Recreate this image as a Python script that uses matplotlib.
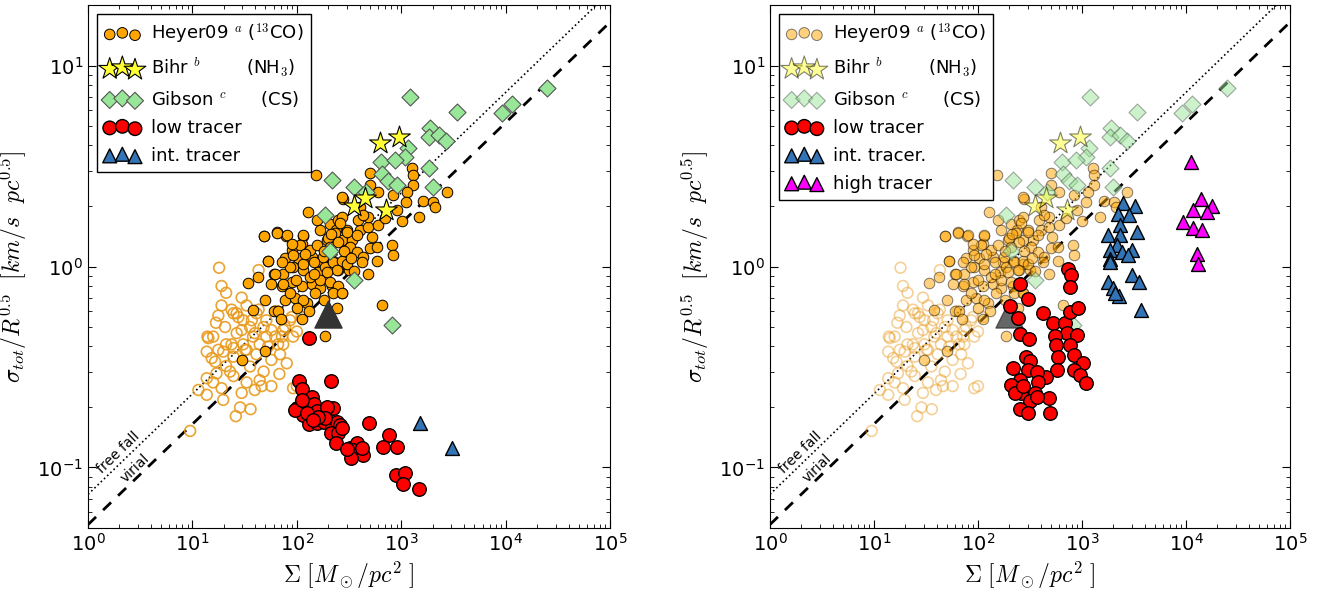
import numpy as np
import matplotlib
matplotlib.use("Agg")
import matplotlib.pyplot as plt
from matplotlib.font_manager import FontProperties

plt.rcParams['font.family'] = ['DejaVu Sans']
plt.rcParams['mathtext.fontset'] = 'dejavusans'

# Heyer09 (13CO), filled circles
heyer_x = [153, 275, 129, 157, 64, 79, 48.5, 115, 208, 250, 167, 236, 300, 193, 269, 336, 111, 89, 77, 53,
           103, 139, 173, 224, 269, 42, 34, 60, 74, 92, 115, 161, 186, 250, 313, 57, 72, 89, 111, 139,
           167, 216, 269, 50, 38, 60, 77, 96, 124, 66, 50, 184, 111,
           502, 1262, 1306, 1306, 1130, 840, 604, 269, 502, 1630, 2030, 2110, 2730, 1490, 1010, 811, 829,
           582, 502, 484, 403, 484, 389, 484, 269, 259, 232, 300, 375, 200, 208, 250, 323, 375, 434,
           179, 224, 269, 300, 241, 193, 167, 208, 250, 224, 269, 115, 107, 134, 155, 92, 115, 86, 72,
           53, 48, 64, 80, 134, 99, 74, 62, 149, 115, 86, 650, 30, 403, 434, 582,
           90, 120, 145, 180, 210, 280, 330, 350, 420, 520, 600, 700, 900, 1100, 180, 240, 130, 100, 70, 145]
heyer_y = [2.85, 2.17, 1.87, 1.70, 1.49, 1.42, 1.42, 1.42, 1.62, 1.70, 1.52, 1.52, 1.52, 1.36, 1.36, 1.36, 1.30, 1.21, 1.10, 1.07,
           1.10, 1.12, 1.05, 1.07, 1.03, 0.89, 0.83, 0.92, 0.92, 1.0, 0.96, 0.94, 1.0, 0.96, 0.96, 0.82, 0.80, 0.84, 0.80, 0.82,
           0.78, 0.80, 0.74, 0.68, 0.61, 0.60, 0.68, 0.70, 0.66, 0.60, 0.38, 0.45, 0.545,
           2.91, 3.08, 2.85, 2.54, 2.36, 2.27, 2.36, 2.22, 2.54, 2.12, 2.1, 1.98, 2.36, 1.77, 1.68, 1.28, 1.14,
           1.07, 1.23, 0.92, 1.52, 1.58, 1.70, 1.77, 1.77, 1.64, 1.46, 1.49, 1.43, 1.38, 1.25, 1.33, 1.25, 1.18, 1.12,
           1.12, 1.05, 1.07, 1.03, 0.96, 0.94, 0.86, 0.84, 0.80, 0.74, 0.74, 1.43, 1.28, 1.21, 1.28, 1.14, 1.03, 1.0, 1.05,
           1.07, 1.42, 1.46, 1.43, 0.89, 0.86, 0.82, 0.92, 0.74, 0.68, 0.74, 0.64, 0.343, 1.98, 1.80, 1.25,
           1.30, 1.15, 1.05, 1.20, 1.45, 1.20, 1.10, 0.95, 1.05, 1.40, 1.60, 1.75, 1.90, 2.10, 0.68, 0.62, 0.60, 0.62, 0.55, 0.92]

# Heyer09, open circles
heyer_open_x = [9.5, 26, 28.6, 36, 19, 16.8, 13.9, 13.7, 16.5, 13.7, 11.4, 13.7, 19, 22.9, 68, 46, 44, 57, 48, 35.6,
                24.7, 33, 44, 62, 86, 74, 26.5, 21, 35.6, 51, 24.7, 33, 64, 92, 17, 21,
                18, 19, 21, 43, 29.6, 23.7, 17.7, 27.5, 37, 43, 20.5, 29.6, 39.5, 57, 77, 89, 72, 14.2, 23.7,
                17.7, 32, 66, 26.5, 30.6, 41, 48, 38, 51, 30.6, 24.7, 41, 53, 69, 74, 80, 19.7, 15.8, 15.3,
                24.7, 33, 39.5, 29.6, 19.7, 15.8, 57, 100, 111, 100, 92]
heyer_open_y = [0.152, 0.18, 0.199, 0.195, 0.64, 0.525, 0.448, 0.377, 0.336, 0.278, 0.243, 0.23, 0.248, 0.30, 0.292, 0.254, 0.272, 0.343, 0.30, 0.318,
                0.356, 0.385, 0.41, 0.448, 0.54, 0.483, 0.466, 0.41, 0.50, 0.54, 0.585, 0.64, 0.60, 0.248, 0.294, 0.32,
                0.986, 0.80, 0.74, 0.96, 0.70, 0.61, 0.57, 0.56, 0.54, 0.61, 0.50, 0.483, 0.466, 0.483, 0.50, 0.56, 0.448, 0.44, 0.41,
                0.385, 0.385, 0.41, 0.585, 0.54, 0.585, 0.50, 0.448, 0.448, 0.41, 0.393, 0.366, 0.40, 0.366, 0.41, 0.33, 0.377, 0.448, 0.35,
                0.285, 0.265, 0.243, 0.235, 0.217, 0.265, 0.254, 0.254, 0.56, 0.475, 0.448]

# Bihr (NH3)
bihr_x = [620, 960, 350, 450, 715]
bihr_y = [4.1, 4.4, 2.0, 2.2, 1.9]

# Gibson (CS)
gibson_x = [1200, 3400, 9200, 11500, 25000, 1900, 1850, 2300, 2700, 1170, 1090, 640, 870, 650, 750, 900,
            1860, 2000, 215, 350, 460, 186, 208, 350, 820]
gibson_y = [7.0, 5.9, 5.8, 6.4, 7.7, 4.9, 4.4, 4.5, 4.2, 3.9, 3.5, 3.3, 3.4, 2.9, 2.65, 2.55,
            3.1, 2.5, 2.7, 2.5, 2.35, 1.8, 1.2, 0.86, 0.51]

# big grey triangle
big_x = [200]
big_y = [0.58]

# left panel tracers
low_l_x = [130, 213, 105, 111, 139, 100, 114, 134, 147, 115, 155, 186, 224, 193, 132, 155, 182, 216, 241, 259,
           211, 250, 237, 186, 96, 124, 161, 144, 111, 269, 323, 375, 348, 434, 330, 305, 419, 492, 764, 674,
           918, 891, 1087, 1033, 1473]
low_l_y = [0.44, 0.27, 0.27, 0.245, 0.225, 0.197, 0.200, 0.202, 0.208, 0.182, 0.190, 0.182, 0.197, 0.200, 0.164, 0.166, 0.169, 0.160, 0.169, 0.163,
           0.149, 0.148, 0.133, 0.176, 0.193, 0.187, 0.178, 0.172, 0.217, 0.158, 0.125, 0.133, 0.122, 0.115, 0.112, 0.124, 0.125, 0.166, 0.145, 0.126,
           0.127, 0.092, 0.094, 0.083, 0.078]
int_l_x = [1500, 3050]
int_l_y = [0.166, 0.125]

# right panel tracers
low_r_x = [738, 778, 769, 254, 300, 203, 244, 256, 309, 425, 523, 687, 769, 922, 713, 889, 550, 561, 589, 769,
           843, 1017, 833, 955, 1092, 571, 451, 485, 492, 288, 319, 219, 303, 367, 256, 380, 207, 261, 354, 227,
           319, 367, 256, 303, 272]
low_r_y = [0.968, 0.908, 0.793, 0.818, 0.689, 0.636, 0.552, 0.461, 0.434, 0.585, 0.525, 0.525, 0.596, 0.62, 0.466, 0.455, 0.453, 0.406, 0.356, 0.406,
           0.363, 0.332, 0.305, 0.288, 0.262, 0.305, 0.283, 0.221, 0.186, 0.356, 0.339, 0.312, 0.305, 0.30, 0.272, 0.265, 0.257, 0.236, 0.235, 0.235,
           0.215, 0.224, 0.195, 0.186, 0.254]
int_r_x = [2462, 3236, 2233, 2851, 2318, 3357, 1790, 2341, 2155, 1857, 3008, 2400, 1857, 2770, 1857, 1790, 3008, 3497,
           1998, 2258, 3707, 2073]
int_r_y = [2.08, 1.99, 1.82, 1.80, 1.61, 1.49, 1.43, 1.43, 1.28, 1.21, 1.21, 1.18, 1.09, 1.14, 1.05, 0.84, 0.908, 0.84,
           0.78, 0.71, 0.61, 0.74]
high_r_x = [11090, 13840, 17650, 11780, 15820, 9420, 11780, 14170, 12680, 13180]
high_r_y = [3.32, 2.16, 2.0, 1.91, 1.87, 1.67, 1.55, 1.52, 1.16, 1.03]

G = 4.302e-3  # pc (km/s)^2 / Msun


def panel(ax, tracers, faded):
    a = 0.5 if faded else 1.0
    sig = np.logspace(0, 5, 50)
    vir = np.sqrt(np.pi * G * sig / 5.0)
    ax.plot(sig, vir, 'k--', lw=2, dashes=(4, 3.5), zorder=1)
    ax.plot(sig, np.sqrt(2) * vir, 'k:', lw=1.2, zorder=1)

    ax.scatter(heyer_open_x, heyer_open_y, s=60, facecolors='none',
               edgecolors='#e89a1c', linewidths=1.2, alpha=0.45 if faded else 0.9, zorder=2)
    ax.scatter(heyer_x, heyer_y, s=58, c='orange', edgecolors='k', linewidths=0.7,
               alpha=a, zorder=3, label=r'Heyer09 $^a$ ($^{13}$CO)')
    ax.scatter(bihr_x, bihr_y, s=270, marker='*', c='#ffff33', edgecolors='k', linewidths=0.8,
               alpha=a, zorder=5, label=r'Bihr $^b$        (NH$_3$)')
    ax.scatter(gibson_x, gibson_y, s=75, marker='D', c='#98e698', edgecolors='#555555', linewidths=0.8,
               alpha=a, zorder=4, label=r'Gibson $^c$      (CS)')
    ax.scatter(big_x, big_y, s=380, marker='^', c='#333333', edgecolors='#333333',
               alpha=0.75 if faded else 1.0, zorder=6)
    for tx, ty, kw in tracers:
        ax.scatter(tx, ty, edgecolors='k', linewidths=1.0, zorder=7, **kw)

    ax.set_xscale('log')
    ax.set_yscale('log')
    ax.set_xlim(1, 1e5)
    ax.set_ylim(0.05, 20)
    ax.tick_params(which='both', direction='in', top=True, right=True, labelsize=14)
    ax.tick_params(which='major', length=6)
    ax.tick_params(which='minor', length=3)
    ax.set_xlabel(r'$\Sigma\ [M_\odot/pc^2\ ]$', fontsize=17, math_fontfamily='cm')
    ax.set_ylabel(r'$\sigma_{tot}/R^{0.5}\ \ [km/s\ \ pc^{0.5}]$', fontsize=17, math_fontfamily='cm',
                  labelpad=6)
    ax.text(1.95, 0.118, 'free fall', rotation=44, fontsize=10, ha='center', va='center',
            rotation_mode='anchor')
    ax.text(2.85, 0.099, 'virial', rotation=44, fontsize=10, ha='center', va='center',
            rotation_mode='anchor')

    leg = ax.legend(loc='upper left', scatterpoints=3, fancybox=False, framealpha=1,
                    prop=FontProperties(size=13, math_fontfamily='cm'),
                    borderaxespad=0.5, handletextpad=0.6, labelspacing=0.55)
    leg.get_frame().set_edgecolor('k')


fig = plt.figure(figsize=(13.2, 5.97), dpi=100)
ax1 = fig.add_axes([0.0667, 0.1156, 0.3955, 0.876])
ax2 = fig.add_axes([0.5833, 0.1156, 0.394, 0.876])

panel(ax1, [
    (low_l_x, low_l_y, dict(s=95, c='red', label='low tracer')),
    (int_l_x, int_l_y, dict(s=100, marker='^', c='#3274b5', label='int. tracer')),
], faded=False)

panel(ax2, [
    (low_r_x, low_r_y, dict(s=95, c='red', label='low tracer')),
    (int_r_x, int_r_y, dict(s=100, marker='^', c='#3274b5', label='int. tracer.')),
    (high_r_x, high_r_y, dict(s=100, marker='^', c='magenta', label='high tracer')),
], faded=True)

fig.savefig('out.png', dpi=100)
